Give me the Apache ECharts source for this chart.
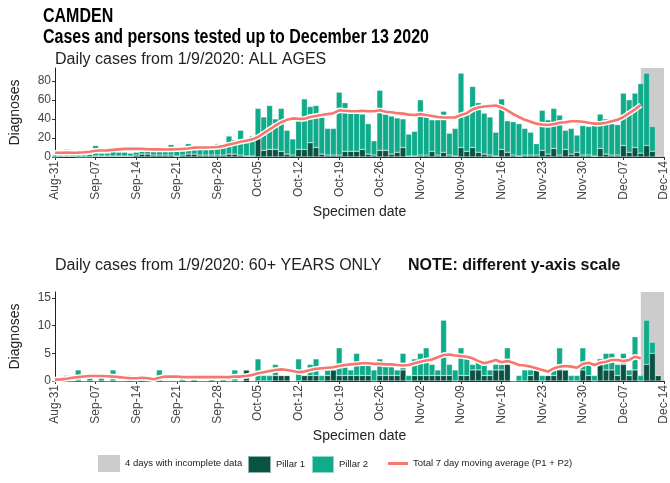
<!DOCTYPE html>
<html>
<head>
<meta charset="utf-8">
<script src="https://cdn.jsdelivr.net/npm/echarts@6/dist/echarts.min.js"></script>
<style>
  html, body { margin: 0; padding: 0; background: #fff; }
  #chart { width: 670px; height: 483px; }
</style>
</head>
<body>
<div id="chart"></div>
<script>
// one category per day, 31 Aug 2020 ... 14 Dec 2020 (last one is the axis end, no data)
const firstDay = '2020-08-31'
const dayCount = 106
const months = ['Jan', 'Feb', 'Mar', 'Apr', 'May', 'Jun', 'Jul', 'Aug', 'Sep', 'Oct', 'Nov', 'Dec']

// all ages
const allP1 = [0, 1, 1, 1, 0, 0, 0, 1, 1, 1, 1, 1, 1, 1, 2, 3, 3, 2, 2, 2, 2, 1, 2, 3, 3, 2, 2, 2, 2, 2, 3, 3, 2, 1, 1,
  20, 7, 8, 8, 6, 3, 2, 8, 8, 15, 10, 3, 2, 2, 2, 6, 6, 6, 8, 3, 2, 7, 7, 3, 5, 10, 1, 1, 2, 2, 6, 2, 5, 2, 1,
  10, 6, 10, 5, 3, 2, 1, 8, 5, 2, 1, 2, 2, 2, 7, 3, 9, 2, 8, 3, 5, 2, 2, 1, 9, 3, 2, 2, 12, 5, 10, 4, 12, 6, 1]
const allP2 = [2, 2, 7, 2, 2, 2, 3, 11, 3, 3, 8, 4, 4, 3, 3, 3, 3, 4, 7, 4, 11, 5, 5, 11, 6, 7, 6, 6, 12, 8, 19, 15, 26, 19, 21,
  31, 35, 46, 32, 45, 25, 17, 33, 53, 38, 44, 39, 28, 28, 66, 51, 40, 40, 37, 32, 15, 63, 38, 40, 36, 30, 23, 26, 58, 45, 33, 37, 43, 23, 29,
  78, 40, 64, 52, 43, 40, 25, 53, 33, 35, 34, 28, 24, 12, 42, 36, 42, 42, 20, 27, 18, 31, 30, 32, 36, 37, 33, 32, 55, 55, 57, 73, 76, 26, 0]
const allAvg = [4.5, 4.5, 4.6, 4.5, 4.6, 5, 5.5, 6.5, 6.8, 7, 7.5, 8, 8.5, 8.5, 8.6, 8.5, 8.2, 8, 8, 7.8, 8, 8.2, 8.5, 9, 9.8, 10, 10, 10.2, 10.5, 11.5, 13, 14.5, 16, 17, 18.5,
  21, 25, 29, 33, 36.5, 39, 40.5, 40, 40, 42, 43, 44, 45, 46, 49, 48.5, 48, 48, 48.5, 48, 48, 49, 47.5, 47, 46, 45.5, 44.5, 44, 45, 44, 43, 42, 41.5, 41.5, 41.5,
  44, 46, 50, 52, 53, 53.5, 54, 52, 49, 45, 42, 39, 37, 35, 34, 33.5, 34.5, 36, 36.5, 37.5, 37.5, 37, 36, 35, 35, 36, 37.5, 39, 42, 46, 50, 54.5]

// 60+ years
const oldP1 = [0, 0, 0, 0, 0, 0, 0, 0, 0, 0, 0, 0, 0, 0, 0, 0, 0, 0, 0, 0, 0, 0, 0, 0, 0, 0, 0, 0, 0, 0, 0, 0, 0, 2, 0,
  0, 0, 0, 1, 1, 1, 0, 0, 1, 1, 1, 0, 1, 2, 1, 1, 1, 1, 1, 1, 0, 1, 1, 1, 1, 2, 0, 1, 1, 1, 1, 1, 1, 1, 0,
  1, 1, 2, 2, 1, 1, 2, 2, 3, 0, 0, 0, 1, 2, 0, 1, 1, 2, 2, 0, 0, 2, 1, 0, 4, 2, 2, 1, 3, 1, 2, 0, 3, 5, 1]
const oldP2 = [0, 0, 1, 0, 2, 0, 1, 0, 1, 0, 2, 0, 0, 1, 0, 1, 0, 0, 2, 0, 0, 0, 1, 0, 1, 0, 0, 1, 0, 1, 0, 2, 0, 0, 0,
  4, 1, 1, 2, 0, 0, 0, 4, 0, 2, 3, 1, 1, 0, 5, 2, 1, 4, 2, 2, 2, 3, 2, 2, 1, 3, 1, 3, 4, 5, 2, 1, 10, 2, 2,
  5, 3, 1, 2, 2, 1, 1, 1, 3, 0, 1, 2, 1, 0, 1, 0, 1, 4, 0, 1, 1, 4, 2, 1, 0, 3, 3, 2, 2, 1, 6, 1, 8, 2, 0]
const oldAvg = [0.25, 0.3, 0.4, 0.6, 0.7, 0.8, 0.9, 0.9, 0.9, 0.85, 0.8, 0.7, 0.6, 0.5, 0.5, 0.6, 0.5, 0.3, 0.6, 0.8, 0.8, 0.8, 0.7, 0.7, 0.7, 0.7, 0.7, 0.7, 0.7, 0.7, 0.7, 0.8, 0.8, 0.9, 1.1,
  1.4, 1.6, 1.8, 2, 2.1, 2, 1.8, 1.6, 1.7, 2, 2.2, 2.3, 2.4, 2.5, 2.7, 2.9, 3, 3.1, 3.2, 3.2, 3.1, 3.1, 3, 3, 2.9, 2.8, 2.9, 3.2, 3.5, 3.7, 3.9, 4.3, 4.7, 4.8, 4.6,
  4.5, 4.4, 4.1, 3.6, 3.2, 3.5, 3.8, 3.4, 3.6, 3.3, 2.9, 2.8, 2.6, 2.3, 2, 1.7, 2.3, 2.6, 2.7, 2.6, 2.4, 3.1, 3.3, 2.9, 3.3, 3.5, 3.8, 3.8, 3.6, 3.8, 4.4, 4.1]

const incompleteFrom = 'Dec-10'
const incompleteTo = 'Dec-14'

const C_P1 = '#0a5243'
const C_P2 = '#0fab8b'
const C_GREY = '#cccccc'
const C_LINE = '#f8766d'
const FONT = 'Liberation Sans, Arial, sans-serif'
const GREY_NAME = '4 days with incomplete data'
const AVG_NAME = 'Total 7 day moving average (P1 + P2)'

const days = []
for (let i = 0; i < dayCount; i++) {
  const d = new Date(firstDay + 'T12:00:00Z')
  d.setUTCDate(d.getUTCDate() + i)
  days.push(months[d.getUTCMonth()] + '-' + String(d.getUTCDate()).padStart(2, '0'))
}

const chart = echarts.init(document.getElementById('chart'))

function xAxisFor(gridIndex) {
  return {
    type: 'category', gridIndex, data: days, boundaryGap: false,
    name: 'Specimen date', nameLocation: 'middle', nameGap: 48,
    nameTextStyle: { fontFamily: FONT, fontSize: 14, color: '#222' },
    axisLine: { lineStyle: { color: '#222', width: 1 } },
    axisTick: { show: true, length: 3, interval: 6, lineStyle: { color: '#333' } },
    axisLabel: { rotate: 90, interval: 6, fontFamily: FONT, fontSize: 12, color: '#444', margin: 4 },
    splitLine: { show: false }
  }
}
function yAxisFor(gridIndex, max, interval) {
  return {
    type: 'value', gridIndex, min: 0, max, interval,
    name: 'Diagnoses', nameLocation: 'middle', nameGap: 33, nameRotate: 90,
    nameTextStyle: { fontFamily: FONT, fontSize: 14, color: '#222' },
    axisLine: { show: true, lineStyle: { color: '#222' } },
    axisTick: { show: true, length: 3, lineStyle: { color: '#333' } },
    axisLabel: { fontFamily: FONT, fontSize: 12, color: '#444', margin: 4, showMaxLabel: false },
    splitLine: { show: false }
  }
}
function panel(idx, p1, p2, avg) {
  const stack = 'panel' + idx
  const barStyle = c => ({ color: c, borderColor: 'rgba(255,255,255,0.55)', borderWidth: 0.5 })
  return [
    { name: GREY_NAME, type: 'line', xAxisIndex: idx, yAxisIndex: idx, data: [], z: 1,
      itemStyle: { color: C_GREY }, lineStyle: { color: C_GREY },
      markArea: { silent: true, itemStyle: { color: C_GREY },
        data: [[{ xAxis: incompleteFrom }, { xAxis: incompleteTo }]] } },
    { name: 'Pillar 1', type: 'bar', stack, xAxisIndex: idx, yAxisIndex: idx, z: 2, barWidth: 5.9,
      data: p1, itemStyle: barStyle(C_P1) },
    { name: 'Pillar 2', type: 'bar', stack, xAxisIndex: idx, yAxisIndex: idx, z: 2, barWidth: 5.9,
      data: p2, itemStyle: barStyle(C_P2) },
    { name: 'halo', type: 'line', xAxisIndex: idx, yAxisIndex: idx, z: 3, symbol: 'none', silent: true,
      data: avg, lineStyle: { color: '#fff', width: 5.5 } },
    { name: AVG_NAME, type: 'line', xAxisIndex: idx, yAxisIndex: idx, z: 4,
      symbol: 'none', data: avg, itemStyle: { color: C_LINE }, lineStyle: { color: C_LINE, width: 2.6 } }
  ]
}
function legendItem(name, left, w, h) {
  return { data: [name], left, top: 455, padding: 0, icon: 'rect', itemWidth: w, itemHeight: h, selectedMode: false,
    textStyle: { fontFamily: FONT, fontSize: 9.5, color: '#222', lineHeight: 17 } }
}
function narrowText(text, x, y) {
  return { type: 'text', x, y, scaleX: 0.8,
    style: { text, fontFamily: FONT, fontWeight: 'bold', fontSize: 20, fill: '#000', verticalAlign: 'top' } }
}

chart.setOption({
  animation: false,
  textStyle: { fontFamily: FONT },
  graphic: [
    narrowText('CAMDEN', 43, 6),
    narrowText('Cases and persons tested up to December 13 2020', 43, 27),
    { type: 'text', left: 55, top: 52, style: { text: 'Daily cases from 1/9/2020: ALL AGES', fontFamily: FONT, fontSize: 16, fill: '#222' } },
    { type: 'text', left: 55, top: 258, style: { text: 'Daily cases from 1/9/2020: 60+ YEARS ONLY', fontFamily: FONT, fontSize: 16, fill: '#222' } },
    { type: 'text', left: 408, top: 258, style: { text: 'NOTE: different y-axis scale', fontFamily: FONT, fontWeight: 'bold', fontSize: 16, fill: '#111' } }
  ],
  legend: [
    legendItem(GREY_NAME, 98, 22, 17),
    legendItem('Pillar 1', 247, 23, 17),
    legendItem('Pillar 2', 311, 22, 17),
    legendItem(AVG_NAME, 388, 20, 3)
  ],
  grid: [
    { left: 55, right: 0, top: 68, height: 89 },
    { left: 55, right: 0, top: 292, height: 89 }
  ],
  xAxis: [xAxisFor(0), xAxisFor(1)],
  yAxis: [yAxisFor(0, 93.4, 20), yAxisFor(1, 16.1, 5)],
  series: [...panel(0, allP1, allP2, allAvg), ...panel(1, oldP1, oldP2, oldAvg)]
})
</script>
</body>
</html>
